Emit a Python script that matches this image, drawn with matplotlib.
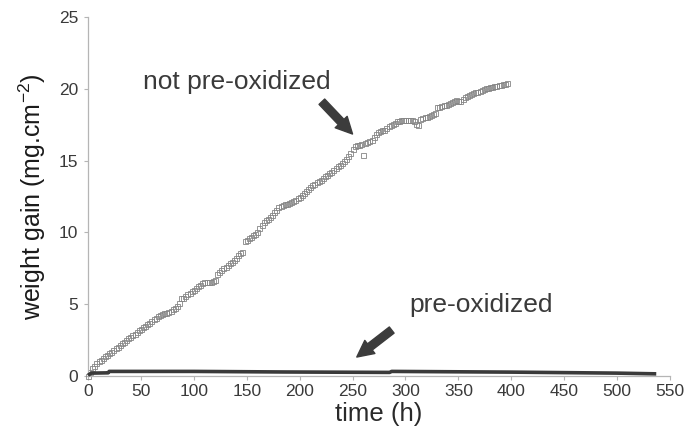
import numpy as np
import matplotlib.pyplot as plt

plt.rcParams['font.family'] = ['Liberation Sans', 'DejaVu Sans']
plt.rcParams['mathtext.fontset'] = 'custom'
plt.rcParams['mathtext.rm'] = 'Liberation Sans'
plt.rcParams['mathtext.default'] = 'regular'

# not pre-oxidized (hollow squares), read every 2 h
t_raw = [0, 2, 4, 6, 8, 10, 12, 14, 16, 18, 20, 22, 24, 26, 28, 30, 32, 34, 36, 38,
         40, 42, 44, 46, 48, 50, 52, 54, 56, 58, 60, 62, 64, 66, 68, 70, 72, 74, 76, 78,
         80, 82, 84, 86, 88, 90, 92, 94, 96, 98, 100, 102, 104, 106, 108, 110, 112, 114, 116, 118,
         120, 122, 124, 126, 128, 130, 132, 134, 136, 138, 140, 142, 144, 146, 148, 150, 152, 154, 156, 158,
         160, 162, 164, 166, 168, 170, 172, 174, 176, 178, 180, 182, 184, 186, 188, 190, 192, 194, 196, 198,
         200, 202, 204, 206, 208, 210, 212, 214, 216, 218, 220, 222, 224, 226, 228, 230, 232, 234, 236, 238,
         240, 242, 244, 246, 248, 250, 252, 254, 256, 258, 260, 262, 264, 266, 268, 270, 272, 274, 276, 278,
         280, 282, 284, 286, 288, 290, 292, 294, 296, 298, 300, 302, 304, 306, 308, 310, 312, 314, 316, 318,
         320, 322, 324, 326, 328, 330, 332, 334, 336, 338, 340, 342, 344, 346, 348, 350, 352, 354, 356, 358,
         360, 362, 364, 366, 368, 370, 372, 374, 376, 378, 380, 382, 384, 386, 388, 390, 392, 394, 396]
w_raw = [0.00, 0.30, 0.55, 0.72, 0.88, 1.02, 1.12, 1.25, 1.36, 1.48, 1.60, 1.70, 1.82, 1.94, 2.05, 2.16, 2.28, 2.38, 2.50, 2.62,
         2.72, 2.84, 2.95, 3.06, 3.17, 3.28, 3.40, 3.50, 3.62, 3.72, 3.84, 3.94, 4.05, 4.18, 4.28, 4.35, 4.40, 4.42, 4.48, 4.55,
         4.65, 4.75, 4.85, 5.10, 5.40, 5.46, 5.55, 5.68, 5.80, 5.90, 6.02, 6.14, 6.25, 6.36, 6.45, 6.52, 6.55, 6.56, 6.58, 6.62,
         6.70, 7.10, 7.25, 7.38, 7.50, 7.60, 7.72, 7.84, 7.95, 8.10, 8.25, 8.40, 8.55, 8.62, 9.40, 9.50, 9.60, 9.70, 9.82, 9.92,
         10.02, 10.30, 10.55, 10.75, 10.85, 10.95, 11.05, 11.22, 11.40, 11.58, 11.75, 11.82, 11.90, 11.95, 12.00, 12.05, 12.10, 12.18, 12.25, 12.38,
         12.50, 12.62, 12.75, 12.90, 13.05, 13.18, 13.30, 13.40, 13.50, 13.58, 13.65, 13.78, 13.90, 14.00, 14.12, 14.24, 14.35, 14.48, 14.60, 14.72,
         14.85, 14.98, 15.10, 15.32, 15.55, 15.80, 16.05, 16.08, 16.10, 16.15, 15.36, 16.22, 16.30, 16.38, 16.45, 16.65, 16.85, 16.98, 17.05, 17.10,
         17.15, 17.28, 17.40, 17.48, 17.55, 17.65, 17.75, 17.78, 17.80, 17.82, 17.80, 17.82, 17.85, 17.80, 17.75, 17.55, 17.45, 17.90, 18.00, 18.02,
         18.05, 18.10, 18.15, 18.22, 18.30, 18.70, 18.75, 18.80, 18.85, 18.90, 18.95, 19.00, 19.05, 19.12, 19.20, 19.18, 19.15, 19.30, 19.40, 19.48,
         19.55, 19.62, 19.70, 19.75, 19.80, 19.88, 19.95, 20.00, 20.05, 20.08, 20.12, 20.16, 20.20, 20.22, 20.25, 20.28, 20.32, 20.35, 20.38]

# pre-oxidized (dense dark band)
t_pre = [0, 3, 19, 20, 100, 185, 285, 287, 400, 500, 537]
w_pre = [0.05, 0.20, 0.22, 0.32, 0.32, 0.28, 0.25, 0.32, 0.27, 0.20, 0.15]

fig = plt.figure(figsize=(6.85, 4.34), dpi=100)
ax = fig.add_axes([88/685, 1-376/434, 582/685, 359/434])

ax.plot(t_pre, w_pre, color='#3a3a3a', lw=2.6, solid_capstyle='butt', clip_on=False, zorder=3)
ax.plot(t_raw, w_raw, ls='none', marker='s', ms=3.6, mfc='none', mec='#858585', mew=0.6,
        clip_on=False, zorder=2)

ax.set_xlim(0, 550)
ax.set_ylim(0, 25)
ax.set_xticks(np.arange(0, 551, 50))
ax.set_yticks(np.arange(0, 26, 5))
for s in ['top', 'right']:
    ax.spines[s].set_visible(False)
for s in ['left', 'bottom']:
    ax.spines[s].set_color('#b5b5b5')
    ax.spines[s].set_linewidth(0.9)
ax.tick_params(colors='#b5b5b5', labelcolor='#3a3a3a', labelsize=12.5, length=3, width=0.8)
ax.tick_params(axis='x', pad=3)
ax.tick_params(axis='y', pad=4)

ax.set_xlabel('time (h)', fontsize=18.5, color='#2a2a2a', labelpad=2)
ax.set_ylabel('weight gain (mg.cm$^{-2}$)', fontsize=18, color='#1a1a1a', labelpad=8)

ax.text(140.8, 20.47, 'not pre-oxidized', fontsize=19, color='#3a3a3a', ha='center', va='center')
ax.text(371.5, 4.94, 'pre-oxidized', fontsize=19, color='#3a3a3a', ha='center', va='center')

arrow = dict(arrowstyle='simple,head_length=0.85,head_width=0.85,tail_width=0.4',
             color='#3c3c3c', shrinkA=0, shrinkB=0, mutation_scale=14)
ax.annotate('', xy=(250, 16.85), xytext=(221, 19.1), arrowprops=arrow)
ax.annotate('', xy=(254, 1.32), xytext=(287, 3.2), arrowprops=arrow)

fig.savefig('out.png', dpi=100)
